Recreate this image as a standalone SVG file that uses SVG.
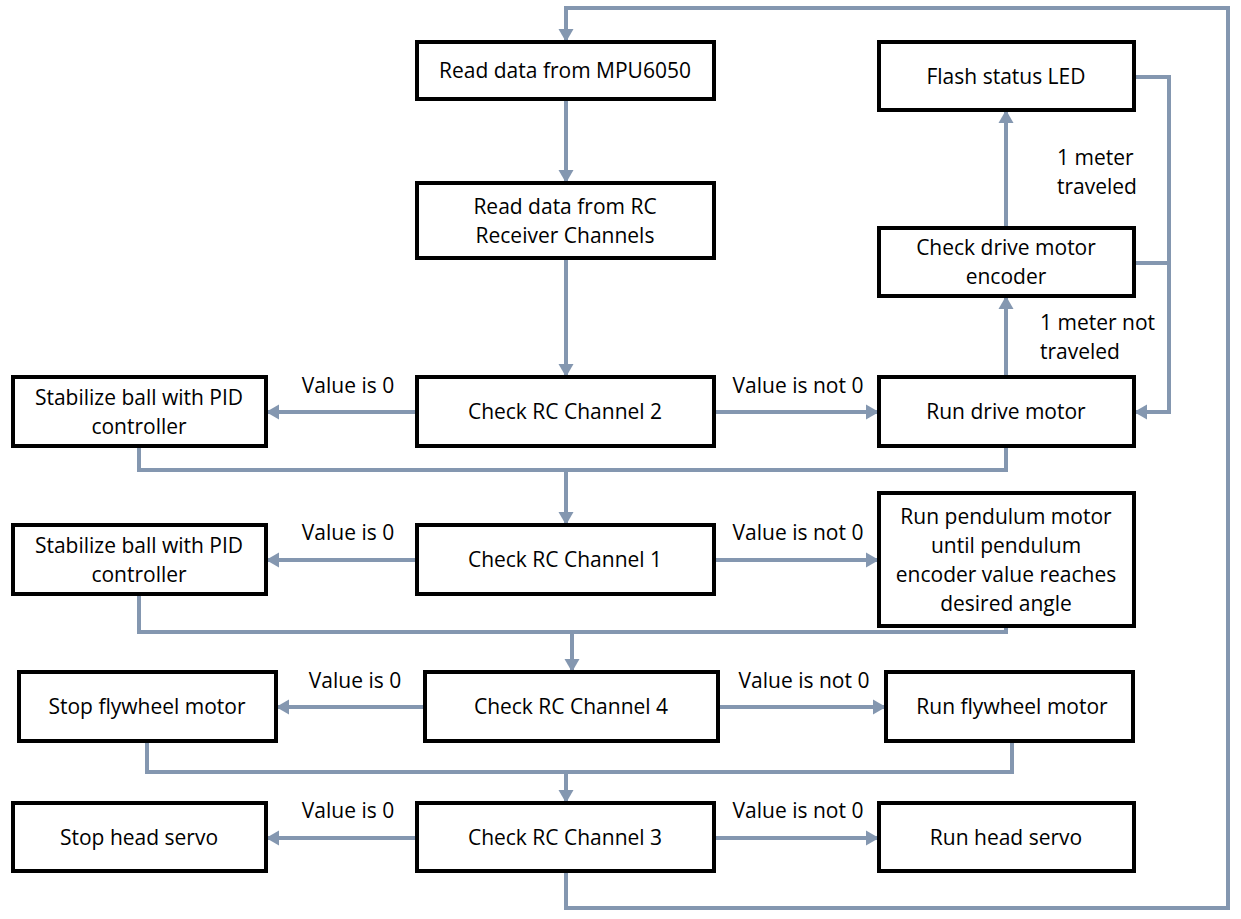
<svg xmlns="http://www.w3.org/2000/svg" width="1241" height="919" viewBox="0 0 1241 919">
<style>
.box{fill:#fff;stroke:#000;stroke-width:4}
.t{font-family:"Open Sans","Liberation Sans",sans-serif;font-size:21px;fill:#000;text-anchor:middle}
.l{font-family:"Open Sans","Liberation Sans",sans-serif;font-size:21px;fill:#000}
.c{fill:none;stroke:#8497B0;stroke-width:4}
</style>
<defs>
<marker id="ah" markerUnits="userSpaceOnUse" markerWidth="16" markerHeight="16" refX="13" refY="8" orient="auto">
<path d="M0,0.5 L13,8 L0,15.5 z" fill="#8497B0"/>
</marker>
</defs>
<rect width="1241" height="919" fill="#fff"/>
<g id="connectors">
<path class="c" d="M566,871 V908 H1228 V8 H566 V42" marker-end="url(#ah)"/>
<path class="c" d="M566,99 V183" marker-end="url(#ah)"/>
<path class="c" d="M566,258 V377" marker-end="url(#ah)"/>
<path class="c" d="M417,412 H266" marker-end="url(#ah)"/>
<path class="c" d="M714,412 H879" marker-end="url(#ah)"/>
<path class="c" d="M1006,377 V296" marker-end="url(#ah)"/>
<path class="c" d="M1006,228 V110" marker-end="url(#ah)"/>
<path class="c" d="M1134,77 H1169 V412 H1134" marker-end="url(#ah)"/>
<path class="c" d="M1134,263 H1169"/>
<path class="c" d="M139,446 V470 H1006 V446"/>
<path class="c" d="M566,470 V525" marker-end="url(#ah)"/>
<path class="c" d="M417,560 H266" marker-end="url(#ah)"/>
<path class="c" d="M714,560 H879" marker-end="url(#ah)"/>
<path class="c" d="M139,594 V632 H1006 V626"/>
<path class="c" d="M572,632 V672" marker-end="url(#ah)"/>
<path class="c" d="M425,707 H276" marker-end="url(#ah)"/>
<path class="c" d="M718,707 H886" marker-end="url(#ah)"/>
<path class="c" d="M147,741 V772 H1012 V741"/>
<path class="c" d="M566,772 V803" marker-end="url(#ah)"/>
<path class="c" d="M417,838 H266" marker-end="url(#ah)"/>
<path class="c" d="M714,838 H879" marker-end="url(#ah)"/>
</g>
<g id="labels">
<text class="t" x="348" y="393">Value is 0</text>
<text class="t" x="798" y="393">Value is not 0</text>
<text class="t" x="348" y="540">Value is 0</text>
<text class="t" x="798" y="540">Value is not 0</text>
<text class="t" x="355" y="688">Value is 0</text>
<text class="t" x="804" y="688">Value is not 0</text>
<text class="t" x="348" y="818">Value is 0</text>
<text class="t" x="798" y="818">Value is not 0</text>
<text class="l" x="1057" y="165">1 meter</text>
<text class="l" x="1057" y="194">traveled</text>
<text class="l" x="1040" y="330">1 meter not</text>
<text class="l" x="1040" y="359">traveled</text>
</g>
<g id="n_mpu"><rect class="box" x="417" y="42" width="297" height="57"/><text class="t" x="565" y="78">Read data from MPU6050</text></g>
<g id="n_rc"><rect class="box" x="417" y="183" width="297" height="75"/><text class="t" x="565" y="214">Read data from RC</text><text class="t" x="565" y="243">Receiver Channels</text></g>
<g id="n_ch2"><rect class="box" x="417" y="377" width="297" height="69"/><text class="t" x="565" y="419">Check RC Channel 2</text></g>
<g id="n_stab1"><rect class="box" x="13" y="377" width="253" height="69"/><text class="t" x="139" y="405">Stabilize ball with PID</text><text class="t" x="139" y="434">controller</text></g>
<g id="n_drive"><rect class="box" x="879" y="377" width="255" height="69"/><text class="t" x="1006" y="419">Run drive motor</text></g>
<g id="n_enc"><rect class="box" x="879" y="228" width="255" height="68"/><text class="t" x="1006" y="255">Check drive motor</text><text class="t" x="1006" y="284">encoder</text></g>
<g id="n_led"><rect class="box" x="879" y="42" width="255" height="68"/><text class="t" x="1006" y="84">Flash status LED</text></g>
<g id="n_ch1"><rect class="box" x="417" y="525" width="297" height="69"/><text class="t" x="565" y="567">Check RC Channel 1</text></g>
<g id="n_stab2"><rect class="box" x="13" y="525" width="253" height="69"/><text class="t" x="139" y="553">Stabilize ball with PID</text><text class="t" x="139" y="582">controller</text></g>
<g id="n_pend"><rect class="box" x="879" y="493" width="255" height="133"/><text class="t" x="1006" y="524">Run pendulum motor</text><text class="t" x="1006" y="553">until pendulum</text><text class="t" x="1006" y="582">encoder value reaches</text><text class="t" x="1006" y="611">desired angle</text></g>
<g id="n_ch4"><rect class="box" x="425" y="672" width="293" height="69"/><text class="t" x="571" y="714">Check RC Channel 4</text></g>
<g id="n_stopfly"><rect class="box" x="19" y="672" width="257" height="69"/><text class="t" x="147" y="714">Stop flywheel motor</text></g>
<g id="n_runfly"><rect class="box" x="886" y="672" width="247" height="69"/><text class="t" x="1012" y="714">Run flywheel motor</text></g>
<g id="n_ch3"><rect class="box" x="417" y="803" width="297" height="68"/><text class="t" x="565" y="845">Check RC Channel 3</text></g>
<g id="n_stophead"><rect class="box" x="13" y="803" width="253" height="68"/><text class="t" x="139" y="845">Stop head servo</text></g>
<g id="n_runhead"><rect class="box" x="879" y="803" width="255" height="68"/><text class="t" x="1006" y="845">Run head servo</text></g>
</svg>
